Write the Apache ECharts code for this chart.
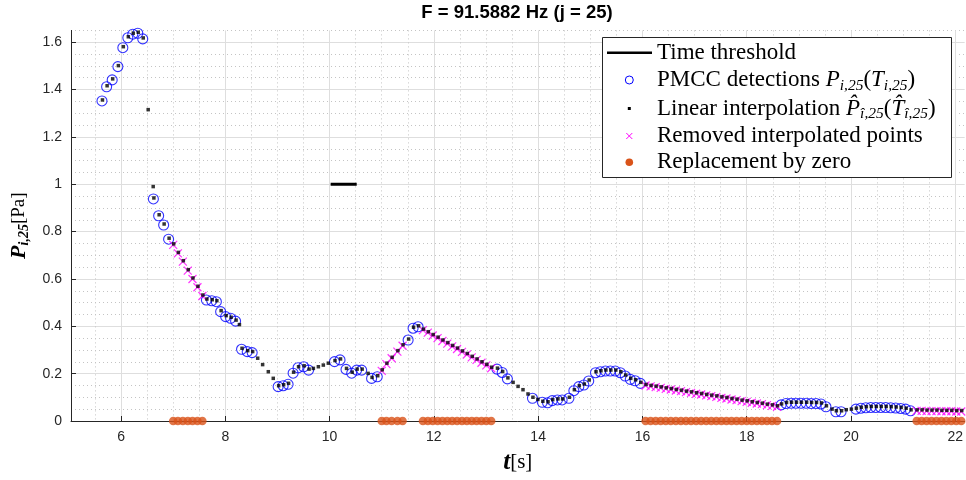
<!DOCTYPE html>
<html><head><meta charset="utf-8">
<script src="https://cdn.jsdelivr.net/npm/echarts@6/dist/echarts.min.js"></script>
<style>html,body{margin:0;padding:0;background:#fff}#c{width:966px;height:480px}</style>
</head><body><div id="c"></div>
<script>
// ---- data ----
const titleText = 'F = 91.5882 Hz (j = 25)';
// PMCC detections (circles)
const detT = [5.634,5.723,5.830,5.939,6.034,6.130,6.225,6.321,6.416,6.620,6.721,6.817,6.912,
  7.637,7.739,7.828,7.910,8.006,8.101,8.197,8.311,8.420,8.515,
  9.013,9.109,9.204,9.300,9.395,9.502,9.597,10.094,10.200,10.315,10.424,10.519,10.615,10.805,10.914,
  11.506,11.601,11.697,13.21,13.31,13.41,13.891,14.08,14.18,14.27,14.37,14.46,14.59,
  14.685,14.78,14.876,14.97,15.10,15.195,15.29,15.385,15.48,15.576,15.67,15.767,15.86,15.96,
  18.66,18.755,18.85,18.945,19.04,19.14,19.235,19.33,19.425,19.52,19.71,19.81,
  20.094,20.189,20.285,20.38,20.476,20.571,20.666,20.762,20.857,20.953,21.048,21.143];
const detP = [1.352,1.412,1.441,1.497,1.577,1.619,1.634,1.638,1.614,0.938,0.867,0.828,0.768,
  0.511,0.508,0.504,0.462,0.441,0.434,0.422,0.303,0.293,0.289,
  0.145,0.149,0.155,0.202,0.225,0.229,0.215,0.251,0.258,0.218,0.202,0.215,0.215,0.180,0.187,
  0.342,0.392,0.398,0.219,0.205,0.178,0.096,0.079,0.077,0.086,0.089,0.089,0.096,
  0.128,0.145,0.152,0.169,0.204,0.208,0.211,0.211,0.211,0.204,0.190,0.176,0.170,0.159,
  0.068,0.074,0.075,0.075,0.075,0.075,0.074,0.074,0.072,0.060,0.039,0.039,
  0.050,0.054,0.056,0.057,0.057,0.057,0.057,0.056,0.055,0.053,0.050,0.043];
// interpolated points that are kept (black dots without a circle)
const gapT = [6.511,6.607,8.261,8.611,8.706,8.815,8.910,9.679,9.775,9.870,9.966,10.729,
  13.51,13.605,13.70,13.796,13.985,19.628,19.90,19.998];
const gapP = [1.311,0.986,0.403,0.261,0.234,0.204,0.176,0.218,0.225,0.232,0.240,0.197,
  0.159,0.142,0.128,0.110,0.087,0.046,0.0435,0.046];
// removed interpolated points (crosses)
const remT = [7.00,7.09,7.185,7.28,7.37,7.465,7.56,
  11.00,11.09,11.19,11.30,11.40,
  11.79,11.884,11.977,12.071,12.164,12.258,12.351,12.445,12.539,12.632,12.726,12.819,12.913,13.006,13.10,
  16.06,16.157,16.254,16.351,16.448,16.545,16.642,16.739,16.836,16.933,17.03,17.127,17.224,17.321,
  17.418,17.515,17.612,17.709,17.806,17.903,18.00,18.097,18.194,18.291,18.388,18.485,18.582,
  21.26,21.355,21.45,21.545,21.64,21.735,21.83,21.925,22.02,22.115];
const remP = [0.744,0.708,0.673,0.635,0.600,0.565,0.528,
  0.212,0.240,0.265,0.293,0.318,
  0.384,0.373,0.361,0.350,0.338,0.327,0.315,0.304,0.292,0.281,0.269,0.258,0.246,0.235,0.223,
  0.150,0.146,0.143,0.140,0.136,0.133,0.129,0.126,0.122,0.119,0.115,0.112,0.108,0.105,
  0.102,0.098,0.095,0.091,0.088,0.084,0.081,0.077,0.074,0.071,0.067,0.064,0.060,
  0.043,0.043,0.042,0.042,0.042,0.041,0.041,0.041,0.040,0.040];
// time threshold segment
const thrT = [10.02, 10.52];
const thrP = [1, 1];
// axes
const xTicks = [6,8,10,12,14,16,18,20,22];
const xMinor = [5.5,6.5,7,7.5,8.5,9,9.5,10.5,11,11.5,12.5,13,13.5,14.5,15,15.5,16.5,17,17.5,18.5,19,19.5,20.5,21,21.5];
const yTicks = [0,0.2,0.4,0.6,0.8,1,1.2,1.4,1.6];
const yMinor = [0.05,0.1,0.15,0.25,0.3,0.35,0.45,0.5,0.55,0.65,0.7,0.75,0.85,0.9,0.95,1.05,1.1,1.15,1.25,1.3,1.35,1.45,1.5,1.55,1.65];

// ---- build ----
const zip = (a, b) => a.map((v, i) => [v, b[i]]);
const detData = zip(detT, detP);
const remData = zip(remT, remP);
const interpData = detData.concat(zip(gapT, gapP), remData).sort((a, b) => a[0] - b[0]);
const zeroData = remT.map(t => [t, 0]);

const AX = '#262626';
const serif = 'Liberation Serif';
const sans = 'Liberation Sans';
const chart = echarts.init(document.getElementById('c'), null, {renderer: 'canvas'});

const legX = 602, legY = 37, rowY = [52.7, 80, 108.5, 136, 162.3];
const iconX = 629.3, textX = 657;
const lf = 23, sf = 15.5;
const rich = {
  n: {fontFamily: serif, fontSize: lf, fill: '#000', color: '#000'},
  i: {fontFamily: serif, fontSize: lf, fontStyle: 'italic', fill: '#000', color: '#000'},
  s: {fontFamily: serif, fontSize: sf, fontStyle: 'italic', fill: '#000', color: '#000', padding: [11, 0, 0, 0]}
};
function legText(y, text) {
  return {type: 'text', z: 101, style: {x: textX, y: y, text: text, rich: rich,
    verticalAlign: 'middle', textVerticalAlign: 'middle', fill: '#000',
    font: lf + 'px ' + serif}};
}

chart.setOption({
  animation: false,
  backgroundColor: '#fff',
  grid: {left: 68, right: 0, top: 30.4, bottom: 59, containLabel: false},
  xAxis: [{
    type: 'value', min: 5.04, max: 22.18, gridIndex: 0, position: 'bottom',
    axisLine: {show: true, onZero: false, lineStyle: {color: AX, width: 1}},
    axisTick: {show: true, inside: true, length: 5, customValues: xTicks, lineStyle: {color: AX}},
    axisLabel: {customValues: xTicks, color: AX, fontFamily: sans, fontSize: 14, margin: 9},
    splitLine: {show: true, lineStyle: {color: '#dedede', width: 1}},
    name: '{b|t}{n|[s]}', nameLocation: 'middle', nameGap: 29,
    nameTextStyle: {rich: {
      b: {fontFamily: serif, fontSize: 25, fontStyle: 'italic', fontWeight: 'bold', color: '#000'},
      n: {fontFamily: serif, fontSize: 21, color: '#000'}}}
  }, {
    type: 'value', min: 5.04, max: 22.18, gridIndex: 0, position: 'top',
    axisLine: {show: false}, axisLabel: {show: false},
    axisTick: {show: false, customValues: xMinor},
    splitLine: {show: true, lineStyle: {color: '#c4c4c4', width: 1, type: [1, 3]}}
  }],
  yAxis: [{
    type: 'value', min: 0, max: 1.65, gridIndex: 0, position: 'left',
    axisLine: {show: true, onZero: false, lineStyle: {color: AX, width: 1}},
    axisTick: {show: true, inside: true, length: 5, customValues: yTicks, lineStyle: {color: AX}},
    axisLabel: {customValues: yTicks, color: AX, fontFamily: sans, fontSize: 14, margin: 9},
    splitLine: {show: true, lineStyle: {color: '#dedede', width: 1}},
    name: '{b|P}{s|i,25}{n|[Pa]}', nameLocation: 'middle', nameGap: 40, nameRotate: 90,
    nameTextStyle: {rich: {
      b: {fontFamily: serif, fontSize: 22, fontStyle: 'italic', fontWeight: 'bold', color: '#000'},
      s: {fontFamily: serif, fontSize: 14, fontStyle: 'italic', fontWeight: 'bold', color: '#000', padding: [10, 0, 0, 0]},
      n: {fontFamily: serif, fontSize: 19, color: '#000'}}}
  }, {
    type: 'value', min: 0, max: 1.65, gridIndex: 0, position: 'right',
    axisLine: {show: false}, axisLabel: {show: false},
    axisTick: {show: false, customValues: yMinor},
    splitLine: {show: true, lineStyle: {color: '#c4c4c4', width: 1, type: [1, 3]}}
  }],
  series: [
    {name: 'Time threshold', type: 'line', data: zip(thrT, thrP), symbol: 'none',
      lineStyle: {color: '#000', width: 3}, z: 3},
    {name: 'PMCC detections', type: 'scatter', data: detData, symbol: 'circle', symbolSize: 10,
      itemStyle: {color: 'rgba(0,0,0,0)', borderColor: '#0000ff', borderWidth: 1.1}, z: 4, clip: false},
    {name: 'Removed interpolated points', type: 'scatter', data: remData,
      symbol: 'path://M0,0L10,10M10,0L0,10', symbolSize: 8,
      itemStyle: {color: 'rgba(0,0,0,0)', borderColor: '#ff00ff', borderWidth: 1.2}, z: 5, clip: false},
    {name: 'Linear interpolation', type: 'scatter', data: interpData, symbol: 'rect', symbolSize: 3.5,
      symbolOffset: [0.5, -1], itemStyle: {color: '#000'}, z: 6, clip: false},
    {name: 'Replacement by zero', type: 'scatter', data: zeroData, symbol: 'circle', symbolSize: 8.5,
      itemStyle: {color: '#D95319'}, z: 7, clip: false}
  ],
  graphic: [
    {type: 'text', z: 100, style: {x: 517, y: 13, text: titleText, textAlign: 'center', align: 'center',
      verticalAlign: 'middle', textVerticalAlign: 'middle', font: 'bold 18.5px ' + sans, fill: '#000'}},
    {type: 'rect', z: 100, shape: {x: legX + 0.5, y: legY + 0.5, width: 349, height: 140},
      style: {fill: '#fff', stroke: AX, lineWidth: 1}},
    {type: 'line', z: 101, shape: {x1: 607, y1: rowY[0], x2: 652, y2: rowY[0]}, style: {stroke: '#000', lineWidth: 2.5}},
    {type: 'circle', z: 101, shape: {cx: iconX, cy: rowY[1], r: 4}, style: {fill: 'none', stroke: '#0000ff', lineWidth: 1}},
    {type: 'rect', z: 101, shape: {x: iconX - 1.5, y: rowY[2] - 1.5, width: 3, height: 3}, style: {fill: '#000'}},
    {type: 'line', z: 101, shape: {x1: iconX - 3, y1: rowY[3] - 3, x2: iconX + 3, y2: rowY[3] + 3}, style: {stroke: '#ff00ff', lineWidth: 1}},
    {type: 'line', z: 101, shape: {x1: iconX - 3, y1: rowY[3] + 3, x2: iconX + 3, y2: rowY[3] - 3}, style: {stroke: '#ff00ff', lineWidth: 1}},
    {type: 'circle', z: 101, shape: {cx: iconX, cy: rowY[4], r: 3.8}, style: {fill: '#D95319'}},
    legText(rowY[0], '{n|Time threshold}'),
    legText(rowY[1], '{n|PMCC detections }{i|P}{s|i,25}{n|(}{i|T}{s|i,25}{n|)}'),
    legText(rowY[2], '{n|Linear interpolation }{i|P\u0302}{s|\u00ee,25}{n|(}{i|T\u0302}{s|\u00ee,25}{n|)}'),
    legText(rowY[3], '{n|Removed interpolated points}'),
    legText(rowY[4], '{n|Replacement by zero}')
  ]
});
</script></body></html>
